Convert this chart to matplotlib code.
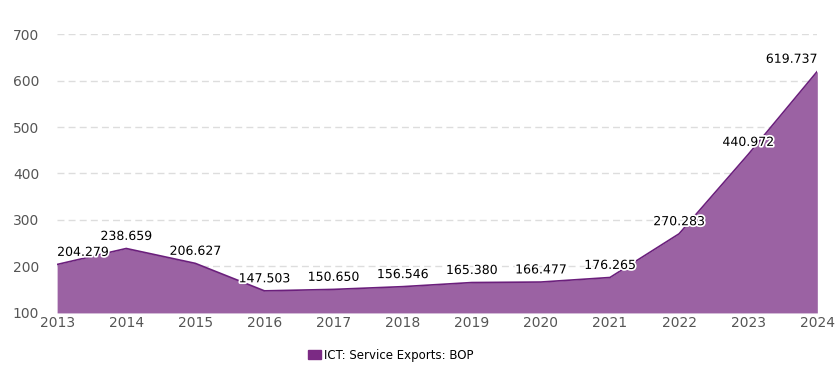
import numpy as np
import matplotlib.pyplot as plt
import matplotlib.patheffects as pe
from matplotlib.patches import Patch

years = [2013, 2014, 2015, 2016, 2017, 2018, 2019, 2020, 2021, 2022, 2023, 2024]
values = [204.279, 238.659, 206.627, 147.503, 150.650, 156.546, 165.380,
          166.477, 176.265, 270.283, 440.972, 619.737]
labels = ["204.279", "238.659", "206.627", "147.503", "150.650", "156.546",
          "165.380", "166.477", "176.265", "270.283", "440.972", "619.737"]
yticks = [100, 200, 300, 400, 500, 600, 700]

fig = plt.figure(figsize=(8.4, 3.66), dpi=100)
ax = fig.add_axes([0.068, 0.145, 0.905, 0.762])

ax.fill_between(years, 100, values, color="#9b62a3", linewidth=0)
ax.plot(years, values, color="#6b1f7c", linewidth=1.2)

for x, v, s in zip(years, values, labels):
    ha = "center"
    if x == years[0]:
        ha = "left"
    if x == years[-1]:
        ha = "right"
    ax.annotate(s, (x, v), xytext=(0, 4), textcoords="offset points",
                ha=ha, va="bottom", fontsize=9, color="black",
                path_effects=[pe.withStroke(linewidth=2.5, foreground="white")])

ax.set_xlim(years[0], years[-1])
ax.set_ylim(100, 700)
ax.set_xticks(years)
ax.set_yticks(yticks)
ax.tick_params(axis="both", length=0, labelsize=10, colors="#555555")
ax.tick_params(axis="x", pad=2)
ax.tick_params(axis="y", pad=13)
for sp in ax.spines.values():
    sp.set_visible(False)
ax.grid(axis="y", color="#dddddd", linestyle=(0, (5, 3)), linewidth=1)
ax.set_axisbelow(True)

handle = Patch(facecolor="#7b2a84", edgecolor="#7b2a84")
fig.legend([handle], ["ICT: Service Exports: BOP"], loc="center",
           bbox_to_anchor=(0.465, 0.03), frameon=False, fontsize=8.5,
           handlelength=1.1, handleheight=0.8, handletextpad=0.3)

plt.savefig("out.png", dpi=100)
